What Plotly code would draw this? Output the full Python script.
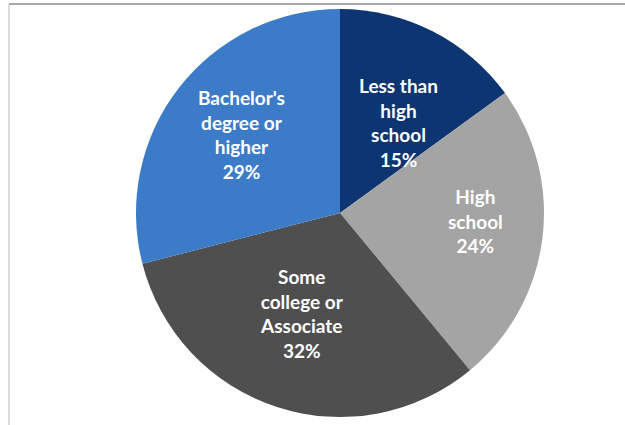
import math
import plotly.graph_objects as go

labels = ["Less than<br>high<br>school", "High<br>school", "Some<br>college or<br>Associate", "Bachelor's<br>degree or<br>higher"]
values = [15, 24, 32, 29]
colors = ["#0c3571", "#a4a4a4", "#4f4f4f", "#3c7bc8"]

# label placement (style): radial fraction and angular nudge in degrees
label_radius = [0.53, 0.665, 0.527, 0.617]
label_nudge = [5.8, -3.8, 2.8, 0.7]

W, H = 625, 425
cx, cy, r = 340, 213, 204

fig = go.Figure(go.Pie(
    labels=labels,
    values=values,
    sort=False,
    direction="clockwise",
    rotation=0,
    marker=dict(colors=colors, line=dict(width=0)),
    textinfo="none",
    hoverinfo="skip",
    showlegend=False,
    domain=dict(x=[(cx - r) / W, (cx + r) / W], y=[(H - cy - r) / H, (H - cy + r) / H]),
))

annotations = []
total = sum(values)
cum = 0
for lab, v, rf, nd in zip(labels, values, label_radius, label_nudge):
    mid = (cum + v / 2) / total * 360 + nd
    cum += v
    px = cx + math.sin(math.radians(mid)) * r * rf
    py = cy - math.cos(math.radians(mid)) * r * rf
    annotations.append(dict(
        x=px / W, y=1 - py / H, xref="paper", yref="paper",
        text=f"{lab}<br>{v}%", showarrow=False,
        xanchor="center", yanchor="middle", align="center",
        font=dict(family="Lato", size=19, color="white", weight="bold"),
    ))

fig.update_layout(
    width=W, height=H,
    margin=dict(l=0, r=0, t=0, b=0),
    paper_bgcolor="white",
    annotations=annotations,
    shapes=[
        dict(type="line", xref="paper", yref="paper", x0=9 / W, x1=1, y0=1 - 4 / H, y1=1 - 4 / H,
             line=dict(color="#a8a8a8", width=2)),
        dict(type="line", xref="paper", yref="paper", x0=9 / W, x1=9 / W, y0=0, y1=1 - 4 / H,
             line=dict(color="#cfcfcf", width=1.5)),
    ],
)

fig.write_html("out.html", config={"displayModeBar": False},
               post_script="document.body.style.margin='0';")
